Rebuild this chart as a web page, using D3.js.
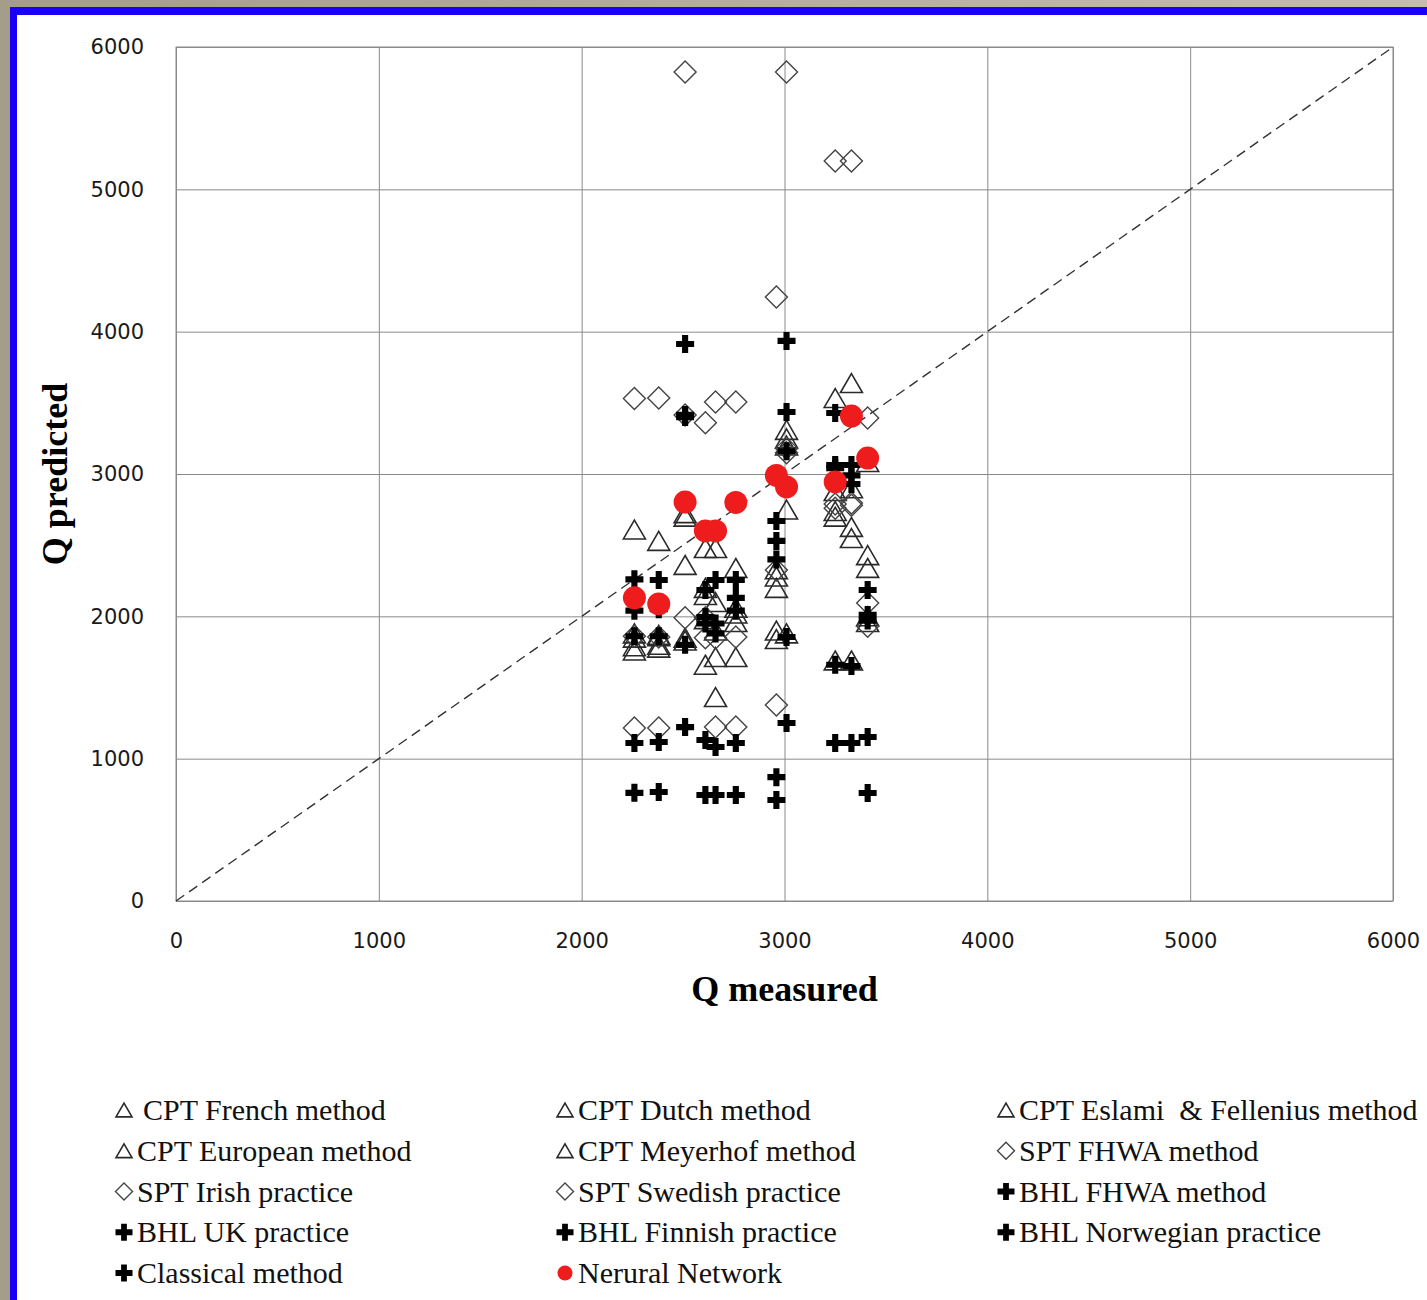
<!DOCTYPE html>
<html>
<head>
<meta charset="utf-8">
<script src="https://cdn.jsdelivr.net/npm/d3@7"></script>
<style>
  body { margin: 0; background: #fff; }
  svg { display: block; }
</style>
</head>
<body>
<div id="chart"></div>
<script>
// measured capacity of each pile (x axis)
const measured = [2260, 2380, 2510, 2610, 2660, 2760, 2960, 3010, 3250, 3330, 3410];

// predicted capacity, one array per method
const cptFrench   = [2610, 2530, 2725, 2480, 2480, 2340, 2330, 3310, 3534, 3639, 3084];
const cptDutch    = [1880, 1860, 2361, 2200, 2100, 2060, 2200, 3250, 2880, 2900, 2430];
const cptEslami   = [1790, 1780, 1850, 1980, 1714, 2020, 1900, 3200, 2740, 2628, 2340];
const cptEuropean = [1760, 1800, 2700, 1660, 1433, 1714, 1840, 2750, 2700, 2550, 2000];
const cptMeyerhof = [1850, 1870, 1830, 2150, 1900, 1960, 2280, 1880, 1690, 1690, 1960];
const sptFhwa     = [3530, 3534, 5825, 3360, 3506, 3506, 4244, 5825, 5199, 5199, 3393];
const sptIrish    = [1860, 1855, 3415, 1990, 1848, 1855, 2326, 3180, 2790, 2796, 2094];
const sptSwedish  = [1215, 1215, 1990, 1850, 1222, 1222, 1377, 3150, 2760, 2780, 1930];
const bhlFhwa     = [2260, 2255, 3913, 2185, 2255, 2255, 2670, 3935, 3429, 3063, 2185];
const bhlUk       = [2040, 2050, 3415, 1995, 1950, 2130, 2530, 3436, 3063, 2990, 2010];
const bhlFinnish  = [1860, 1860, 3400, 1950, 1880, 2040, 2400, 3160, 3040, 2930, 1970];
const bhlNorwegian = [1110, 1117, 1800, 1131, 1082, 1110, 870, 1855, 1660, 1651, 1152];
const classical   = [760, 766, 1222, 745, 745, 745, 710, 1251, 1110, 1110, 759];
const neuralNet   = [2130, 2087, 2803, 2600, 2600, 2800, 2990, 2909, 2944, 3407, 3112];

const xTicks = [0, 1000, 2000, 3000, 4000, 5000, 6000];
const yTicks = [0, 1000, 2000, 3000, 4000, 5000, 6000];

const series = [
  { name: "CPT French method", shape: "triangle", values: cptFrench },
  { name: "CPT Dutch method", shape: "triangle", values: cptDutch },
  { name: "CPT Eslami  & Fellenius method", shape: "triangle", values: cptEslami },
  { name: "CPT European method", shape: "triangle", values: cptEuropean },
  { name: "CPT Meyerhof method", shape: "triangle", values: cptMeyerhof },
  { name: "SPT FHWA method", shape: "diamond", values: sptFhwa },
  { name: "SPT Irish practice", shape: "diamond", values: sptIrish },
  { name: "SPT Swedish practice", shape: "diamond", values: sptSwedish },
  { name: "BHL FHWA method", shape: "plus", values: bhlFhwa },
  { name: "BHL UK practice", shape: "plus", values: bhlUk },
  { name: "BHL Finnish practice", shape: "plus", values: bhlFinnish },
  { name: "BHL Norwegian practice", shape: "plus", values: bhlNorwegian },
  { name: "Classical method", shape: "plus", values: classical },
  { name: "Nerural Network", shape: "circle", values: neuralNet }
];

const W = 1427, H = 1300;
const margin = { left: 176, top: 47 };
const width = 1217, height = 854;

const svg = d3.select("#chart").append("svg")
  .attr("width", W).attr("height", H);

// window frame: grey outside, blue edge
const grad = svg.append("defs").append("linearGradient").attr("id", "topg");
grad.append("stop").attr("offset", "0%").attr("stop-color", "#a59c8a");
grad.append("stop").attr("offset", "100%").attr("stop-color", "#c4bcae");
svg.append("rect").attr("x", 0).attr("y", 0).attr("width", W).attr("height", 7).attr("fill", "url(#topg)");
svg.append("rect").attr("x", 0).attr("y", 0).attr("width", 10).attr("height", H).attr("fill", "#a59c8a");
svg.append("rect").attr("x", 10).attr("y", 7).attr("width", W - 10).attr("height", 8).attr("fill", "#1a00f5");
svg.append("rect").attr("x", 10).attr("y", 7).attr("width", 7).attr("height", H - 7).attr("fill", "#1a00f5");

const g = svg.append("g")
  .attr("transform", "translate(" + margin.left + "," + margin.top + ")");

const x = d3.scaleLinear().domain([0, 6000]).range([0, width]);
const y = d3.scaleLinear().domain([0, 6000]).range([height, 0]);

// gridlines
g.append("g")
  .attr("transform", "translate(0," + height + ")")
  .call(d3.axisBottom(x).tickValues(xTicks).tickSize(-height).tickFormat(""))
  .call(s => s.select(".domain").remove())
  .selectAll("line").attr("stroke", "#8a8a8a");
g.append("g")
  .call(d3.axisLeft(y).tickValues(yTicks).tickSize(-width).tickFormat(""))
  .call(s => s.select(".domain").remove())
  .selectAll("line").attr("stroke", "#8a8a8a");

g.append("rect")
  .attr("width", width).attr("height", height)
  .attr("fill", "none").attr("stroke", "#8a8a8a");

// tick labels
const fmt = d3.format("d");
const xAxis = g.append("g")
  .attr("transform", "translate(0," + height + ")")
  .call(d3.axisBottom(x).tickValues(xTicks).tickFormat(fmt).tickSize(0).tickPadding(32));
const yAxis = g.append("g")
  .call(d3.axisLeft(y).tickValues(yTicks).tickFormat(fmt).tickSize(0).tickPadding(32));
[xAxis, yAxis].forEach(a => {
  a.select(".domain").remove();
  a.selectAll("text")
    .attr("font-family", "DejaVu Sans, Verdana, sans-serif")
    .attr("font-size", 21)
    .attr("fill", "#1a1a1a");
});

// 1:1 line
g.append("line")
  .attr("x1", x(0)).attr("y1", y(0))
  .attr("x2", x(6000)).attr("y2", y(6000))
  .attr("stroke", "#333").attr("stroke-width", 1.4)
  .attr("stroke-dasharray", "10,6");

// marker paths
function markerPath(shape, s) {
  if (shape === "triangle") {
    const h = s * 0.86;
    return "M0," + (-h / 2) + "L" + (s / 2) + "," + (h / 2) + "L" + (-s / 2) + "," + (h / 2) + "Z";
  }
  if (shape === "diamond") {
    return "M0," + (-s / 2) + "L" + (s / 2) + ",0L0," + (s / 2) + "L" + (-s / 2) + ",0Z";
  }
  if (shape === "plus") {
    const a = s / 2, t = s * 0.17;
    return "M" + -t + "," + -a + "H" + t + "V" + -t + "H" + a + "V" + t + "H" + t + "V" + a +
      "H" + -t + "V" + t + "H" + -a + "V" + -t + "H" + -t + "Z";
  }
  return d3.symbol(d3.symbolCircle, Math.PI * s * s / 4)();
}

function styleMarker(sel, shape) {
  if (shape === "triangle") sel.attr("fill", "none").attr("stroke", "#2a2a2a").attr("stroke-width", 1.6);
  else if (shape === "diamond") sel.attr("fill", "none").attr("stroke", "#444").attr("stroke-width", 1.4);
  else if (shape === "plus") sel.attr("fill", "#000");
  else sel.attr("fill", "#ee1c1c");
}

const markerSize = { triangle: 22, diamond: 22, plus: 18, circle: 23 };

series.forEach(sr => {
  g.append("g").selectAll("path")
    .data(sr.values.map((v, i) => ({ m: measured[i], p: v })))
    .enter()
    .append("path")
    .attr("transform", d => "translate(" + x(d.m) + "," + y(d.p) + ")")
    .attr("d", markerPath(sr.shape, markerSize[sr.shape]))
    .call(sel => styleMarker(sel, sr.shape));
});

// axis titles
svg.append("text")
  .attr("x", margin.left + width / 2).attr("y", 1001)
  .attr("text-anchor", "middle")
  .attr("font-family", "Liberation Serif, Times New Roman, serif")
  .attr("font-weight", "bold").attr("font-size", 36)
  .text("Q measured");
svg.append("text")
  .attr("transform", "rotate(-90)")
  .attr("x", -(margin.top + height / 2)).attr("y", 67)
  .attr("text-anchor", "middle")
  .attr("font-family", "Liberation Serif, Times New Roman, serif")
  .attr("font-weight", "bold").attr("font-size", 36)
  .text("Q predicted");

// legend
const legCols = [124, 565, 1006];
const legRow0 = 1120, legStep = 40.75;
const legendSize = { triangle: 16, diamond: 17, plus: 17, circle: 15 };
const leg = svg.append("g");
series.forEach((sr, i) => {
  const cx = legCols[i % 3];
  const by = legRow0 + Math.floor(i / 3) * legStep;
  leg.append("path")
    .attr("transform", "translate(" + cx + "," + (by - 10) + ")")
    .attr("d", markerPath(sr.shape, legendSize[sr.shape]))
    .call(sel => styleMarker(sel, sr.shape));
  leg.append("text")
    .attr("x", cx + (i === 0 ? 19 : 13)).attr("y", by)
    .attr("font-family", "Liberation Serif, Times New Roman, serif")
    .attr("font-size", 30)
    .attr("fill", "#111")
    .style("white-space", "pre")
    .text(sr.name);
});
</script>
</body>
</html>
